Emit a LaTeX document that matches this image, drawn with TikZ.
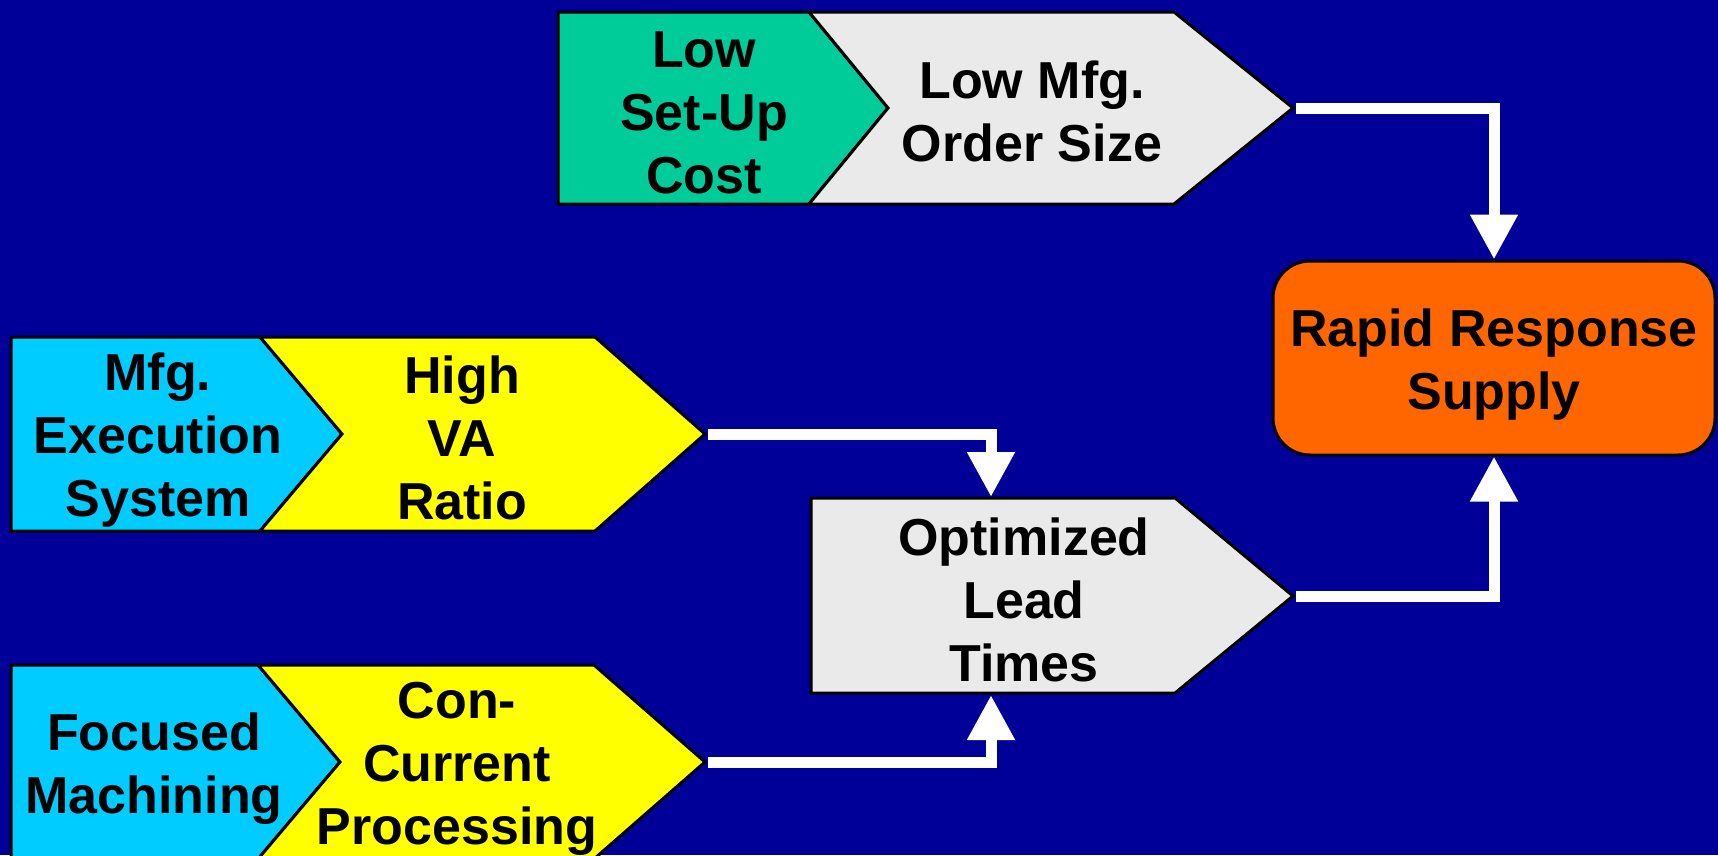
\documentclass[tikz,border=0pt]{standalone}
\usepackage{fontspec}
\setmainfont{Liberation Sans}
\usetikzlibrary{arrows.meta}
\definecolor{bgblue}{HTML}{000099}
\definecolor{teal}{HTML}{00CC99}
\definecolor{paleg}{HTML}{EAEAEA}
\definecolor{skyc}{HTML}{00CCFF}
\definecolor{yel}{HTML}{FFFF00}
\definecolor{orng}{HTML}{FF6600}
% strut that keeps every text line the same height and depth
\newcommand\ls{\rule[-0.11em]{0pt}{1.08em}}
\begin{document}
\begin{tikzpicture}[x=1pt,y=-1pt,
  lbl/.style={font=\fontsize{52}{63}\selectfont\bfseries, align=center, inner sep=0pt, text=black},
  panel/.style={draw=black, line width=3pt, line join=miter},
  flow/.style={draw=white, line width=11pt, line join=miter,
               -{Triangle[length=45pt,width=45pt]}}]
\useasboundingbox (0,0) rectangle (1718,855);
\clip (0,0) rectangle (1718,855);
\fill[bgblue] (0,0) rectangle (1718,855);

% --- top chevron pair
\draw[panel, fill=teal]  (558,12) -- (809,12) -- (888,108) -- (809,204) -- (558,204) -- cycle;
\draw[panel, fill=paleg] (809,12) -- (1174,12) -- (1293,108) -- (1174,204) -- (809,204) -- (888,108) -- cycle;
\node[lbl] (setup) at (704,108) {\ls Low\\\ls Set-Up\\\ls Cost};
\node[lbl] (order) at (1032,108) {\ls Low Mfg.\\\ls Order Size};
\coordinate (order-tip) at (1296,108);

% --- middle chevron pair
\draw[panel, fill=skyc] (11,337) -- (260,337) -- (342,434) -- (260,531) -- (11,531) -- cycle;
\draw[panel, fill=yel]  (260,337) -- (595,337) -- (705,434) -- (595,531) -- (260,531) -- (342,434) -- cycle;
\node[lbl] (mes) at (158,434) {\ls Mfg.\\\ls Execution\\\ls System};
\node[lbl] (va)  at (462,434) {\ls High\\\ls VA\\\ls Ratio};
\coordinate (va-tip) at (708,434);

% --- bottom chevron pair
\draw[panel, fill=skyc] (11,665) -- (258,665) -- (340,762) -- (258,859) -- (11,859) -- cycle;
\draw[panel, fill=yel]  (258,665) -- (594,665) -- (705,762) -- (594,859) -- (258,859) -- (340,762) -- cycle;
\node[lbl] (fm)  at (154,762) {\ls Focused\\\ls Machining};
\node[lbl] (ccp) at (457,762) {\ls Con-\\\ls Current\\\ls Processing};
\coordinate (ccp-tip) at (708,762);

% --- lead-time pentagon
\draw[panel, fill=paleg] (811,498) -- (1175,498) -- (1293,596) -- (1175,693) -- (811,693) -- cycle;
\node[lbl] (olt) at (1024,596) {\ls Optimized\\\ls Lead\\\ls Times};
\coordinate (olt-tip) at (1296,596);
\coordinate (olt-in-top) at (991,497);
\coordinate (olt-in-bot) at (991,695);

% --- goal box
\node[lbl, draw=black, line width=3pt, fill=orng, rounded corners=37pt,
      minimum width=442pt, minimum height=194pt] (rrs) at (1494,358)
      {\ls Rapid Response\\\ls Supply};

% --- connectors
\draw[flow] (order-tip) -| (rrs.north);
\draw[flow] (olt-tip) -| (rrs.south);
\draw[flow] (va-tip) -| (olt-in-top);
\draw[flow] (ccp-tip) -| (olt-in-bot);
\end{tikzpicture}
\end{document}
